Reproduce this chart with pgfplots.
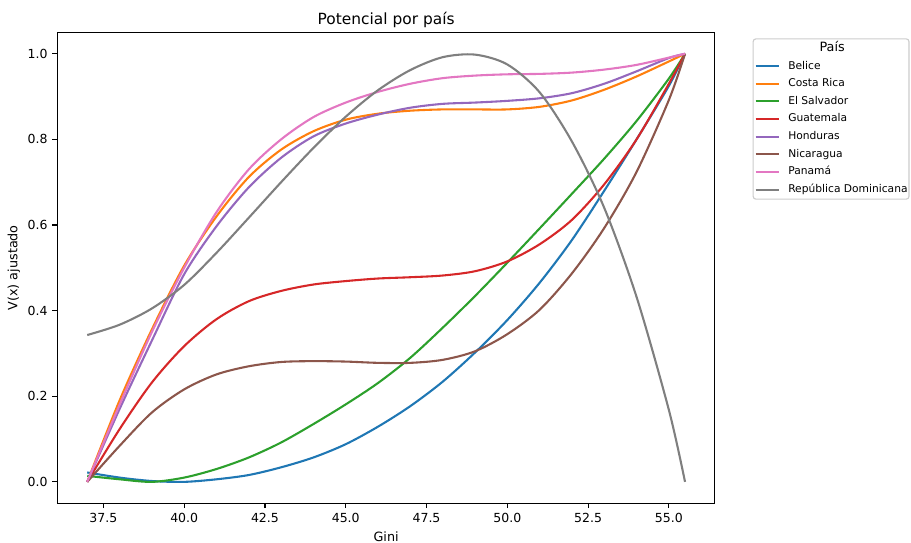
\documentclass[border=0pt]{standalone}
\usepackage{fontspec}
\setmainfont{DejaVu Sans}
\usepackage{pgfplots}
\pgfplotsset{compat=1.18}
\definecolor{c0}{HTML}{1F77B4}
\definecolor{c1}{HTML}{FF7F0E}
\definecolor{c2}{HTML}{2CA02C}
\definecolor{c3}{HTML}{D62728}
\definecolor{c4}{HTML}{9467BD}
\definecolor{c5}{HTML}{8C564B}
\definecolor{c6}{HTML}{E377C2}
\definecolor{c7}{HTML}{7F7F7F}
\begin{document}
\begin{tikzpicture}
\useasboundingbox (-41.3pt,-28.6pt) rectangle (614.7pt,362.4pt);
\begin{axis}[
  at={(0,0)}, anchor=south west,
  scale only axis, width=473.5pt, height=339.1pt,
  xmin=36.075, xmax=56.425, ymin=-0.05, ymax=1.05,
  xtick={37.5,40,...,55}, ytick={0,0.2,...,1.0},
  /pgf/number format/assume math mode=true,
  xticklabel style={/pgf/number format/.cd,fixed,fixed zerofill,precision=1},
  yticklabel style={/pgf/number format/.cd,fixed,fixed zerofill,precision=1},
  tick label style={font=\fontsize{9}{11}\selectfont},
  tick align=outside, major tick length=3.5pt,
  every tick/.style={black, line width=0.8pt},
  axis line style={line width=0.8pt},
  xtick pos=bottom, ytick pos=left,
  title={Potencial por país},
  title style={at={(axis description cs:0.5,1)}, anchor=base, yshift=0pt, font=\fontsize{11.1}{13}\selectfont},
  xlabel={Gini}, ylabel={V(x) ajustado},
  xlabel style={at={(axis description cs:0.5,-0.07)}, anchor=center, font=\fontsize{9.2}{11}\selectfont},
  ylabel style={at={(axis description cs:-0.066,0.5)}, anchor=center, rotate=0, font=\fontsize{9.2}{11}\selectfont},
  legend cell align=left,
  legend image code/.code={\draw[#1] (0pt,0pt) -- (16.8pt,0pt);},
  legend style={at={(1.0573,0.9873)}, anchor=north west,
    draw=black!20, line width=0.8pt, rounded corners=2pt, fill=white,
    font=\fontsize{7.7}{9}\selectfont, row sep=5.3pt,
    inner xsep=1pt, inner ysep=3.2pt,
    nodes={inner sep=0pt, text height=5.8pt, text depth=1.6pt},
    /tikz/every odd column/.append style={column sep=6pt}},
  every axis plot/.append style={line width=1.5pt, smooth, tension=0.5},
]
\addlegendimage{empty legend}
\addlegendentry{\hspace*{22.5pt}{\fontsize{9.2}{11}\selectfont País}}

\addplot[c0] table {
37.0 0.022
38.0 0.010
39.0 0.002
40.0 0.000
41.0 0.006
42.0 0.016
43.0 0.034
44.0 0.057
45.0 0.088
46.0 0.129
47.0 0.177
48.0 0.234
49.0 0.302
50.0 0.378
51.0 0.465
52.0 0.565
53.0 0.680
54.0 0.800
55.0 0.925
55.5 1.000
};
\addlegendentry{Belice}

\addplot[c1] table {
37.0 0.000
38.0 0.190
39.0 0.356
40.0 0.505
41.0 0.620
42.0 0.712
43.0 0.776
44.0 0.819
45.0 0.846
46.0 0.860
47.0 0.867
48.0 0.870
49.0 0.870
50.0 0.870
51.0 0.876
52.0 0.891
53.0 0.916
54.0 0.947
55.0 0.982
55.5 1.000
};
\addlegendentry{Costa Rica}

\addplot[c2] table {
37.0 0.014
38.0 0.006
39.0 0.000
40.0 0.010
41.0 0.030
42.0 0.057
43.0 0.092
44.0 0.135
45.0 0.181
46.0 0.231
47.0 0.290
48.0 0.360
49.0 0.434
50.0 0.512
51.0 0.592
52.0 0.673
53.0 0.755
54.0 0.843
55.0 0.942
55.5 1.000
};
\addlegendentry{El Salvador}

\addplot[c3] table {
37.0 0.000
38.0 0.123
39.0 0.232
40.0 0.317
41.0 0.380
42.0 0.422
43.0 0.446
44.0 0.461
45.0 0.469
46.0 0.475
47.0 0.478
48.0 0.482
49.0 0.492
50.0 0.515
51.0 0.555
52.0 0.612
53.0 0.695
54.0 0.800
55.0 0.930
55.5 1.000
};
\addlegendentry{Guatemala}

\addplot[c4] table {
37.0 0.000
38.0 0.170
39.0 0.330
40.0 0.485
41.0 0.597
42.0 0.688
43.0 0.757
44.0 0.807
45.0 0.837
46.0 0.858
47.0 0.874
48.0 0.883
49.0 0.886
50.0 0.890
51.0 0.896
52.0 0.908
53.0 0.930
54.0 0.959
55.0 0.990
55.5 1.000
};
\addlegendentry{Honduras}

\addplot[c5] table {
37.0 0.000
38.0 0.084
39.0 0.162
40.0 0.216
41.0 0.251
42.0 0.270
43.0 0.280
44.0 0.282
45.0 0.281
46.0 0.278
47.0 0.278
48.0 0.285
49.0 0.305
50.0 0.345
51.0 0.402
52.0 0.487
53.0 0.593
54.0 0.724
55.0 0.892
55.5 1.000
};
\addlegendentry{Nicaragua}

\addplot[c6] table {
37.0 0.000
38.0 0.180
39.0 0.350
40.0 0.500
41.0 0.630
42.0 0.730
43.0 0.800
44.0 0.852
45.0 0.886
46.0 0.911
47.0 0.930
48.0 0.943
49.0 0.949
50.0 0.952
51.0 0.953
52.0 0.956
53.0 0.963
54.0 0.974
55.0 0.991
55.5 1.000
};
\addlegendentry{Panamá}

\addplot[c7] table {
37.0 0.343
38.0 0.367
39.0 0.405
40.0 0.460
41.0 0.535
42.0 0.617
43.0 0.700
44.0 0.780
45.0 0.853
46.0 0.915
47.0 0.962
48.0 0.992
49.0 0.998
50.0 0.975
51.0 0.910
52.0 0.795
53.0 0.640
54.0 0.432
55.0 0.168
55.5 0.000
};
\addlegendentry{República Dominicana}
\end{axis}
\end{tikzpicture}
\end{document}
